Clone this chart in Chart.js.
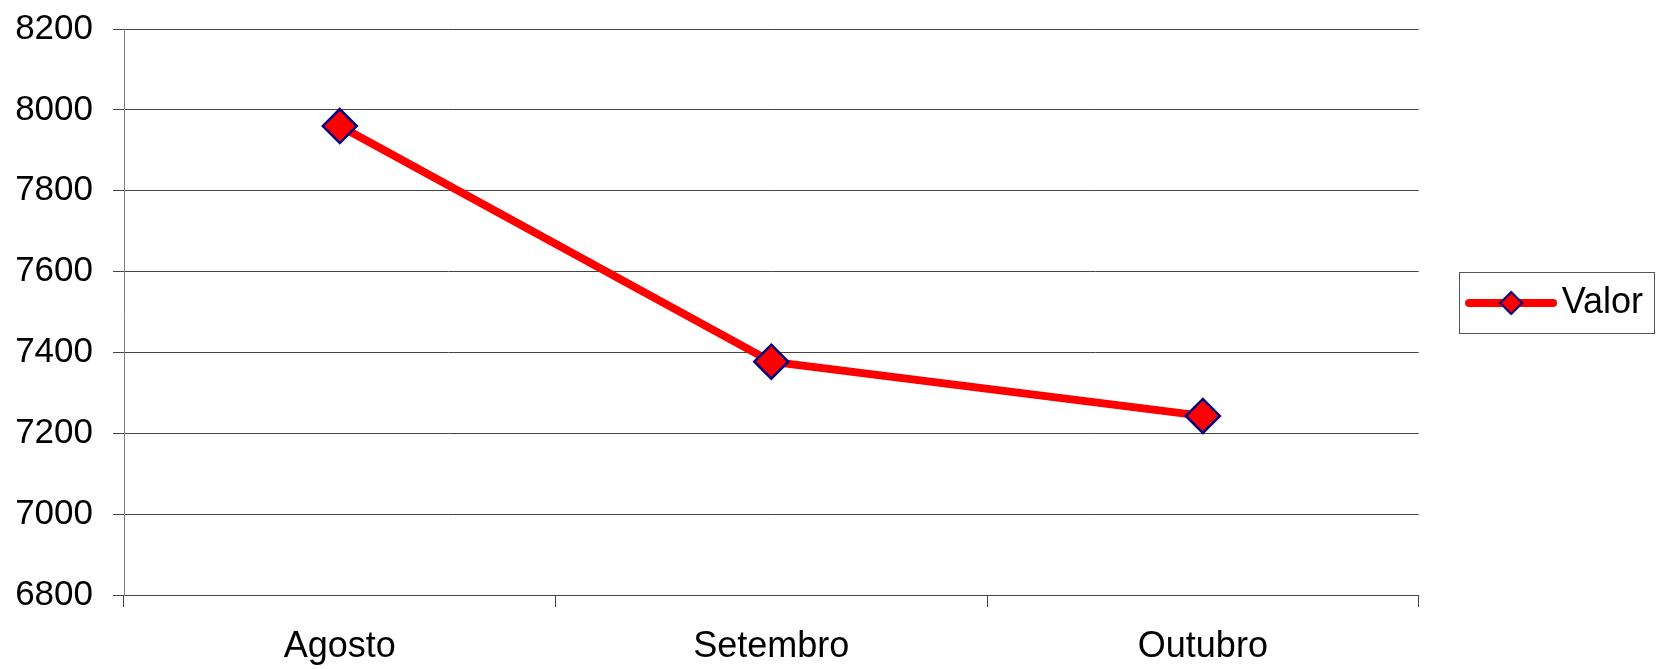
<!DOCTYPE html>
<html>
<head>
<meta charset="utf-8">
<title>Valor</title>
<script src="https://cdn.jsdelivr.net/npm/chart.js@4/dist/chart.umd.min.js"></script>
<style>
  html, body { margin: 0; padding: 0; background: #fff; }
  #wrap { width: 1661px; height: 669px; position: relative; }
</style>
</head>
<body>
<div id="wrap"><canvas id="graficoValor"></canvas></div>
<script>
// dados
var meses = ["Agosto", "Setembro", "Outubro"];
var valores = [7960, 7377, 7243];
var nomeSerie = "Valor";
var eixoMin = 6800;
var eixoMax = 8200;
var passo = 200;

var fonte = "'Liberation Sans', Arial, Helvetica, sans-serif";
var corLinha = "#ff0000";
var corBorda = "#000080";
var corGrade = "#444444";

// icone da legenda: linha com losango
var icone = document.createElement('canvas');
icone.width = 92;
icone.height = 30;
var ic = icone.getContext('2d');
ic.strokeStyle = corLinha;
ic.lineWidth = 8;
ic.lineCap = 'round';
ic.beginPath();
ic.moveTo(4, 15);
ic.lineTo(88, 15);
ic.stroke();
ic.beginPath();
ic.moveTo(46 - 11, 15);
ic.lineTo(46, 15 - 11);
ic.lineTo(46 + 11, 15);
ic.lineTo(46, 15 + 11);
ic.closePath();
ic.fillStyle = corLinha;
ic.fill();
ic.lineWidth = 2;
ic.strokeStyle = corBorda;
ic.stroke();

// moldura da legenda
var molduraLegenda = {
    id: 'molduraLegenda',
    afterLayout: function (chart) {
        chart.legend.top -= 9;
        chart.legend.bottom -= 9;
    },
    afterDraw: function (chart) {
        var hb = chart.legend.legendHitBoxes[0];
        if (!hb) return;
        var ctx = chart.ctx;
        ctx.save();
        ctx.strokeStyle = '#555555';
        ctx.lineWidth = 1;
        ctx.strokeRect(Math.round(hb.left - 20) + 0.5, Math.round(hb.top - 13.5) + 0.5,
            Math.round(hb.width + 31), Math.round(hb.height + 25));
        ctx.restore();
    }
};

var ctxL = document.getElementById("graficoValor").getContext('2d');
var grafico = new Chart(ctxL, {
    type: 'line',
    data: {
        labels: meses,
        datasets: [
            {
                label: nomeSerie,
                data: valores,
                borderColor: corLinha,
                backgroundColor: corLinha,
                borderWidth: 8,
                tension: 0,
                fill: false,
                pointStyle: 'rectRot',
                pointRadius: 17,
                pointHoverRadius: 17,
                pointBackgroundColor: corLinha,
                pointBorderColor: corBorda,
                pointBorderWidth: 2.5
            }
        ]
    },
    plugins: [molduraLegenda],
    options: {
        responsive: true,
        maintainAspectRatio: false,
        animation: false,
        layout: {
            padding: { left: 15, top: 0, right: 8, bottom: 2 }
        },
        plugins: {
            title: { display: false },
            tooltip: { enabled: false },
            legend: {
                display: true,
                position: 'right',
                fullSize: false,
                labels: {
                    usePointStyle: true,
                    pointStyle: icone,
                    pointStyleWidth: 65,
                    padding: 60,
                    color: '#000',
                    font: { family: fonte, size: 36 }
                }
            }
        },
        scales: {
            x: {
                offset: true,
                afterFit: function (escala) { escala.height = 72; },
                grid: {
                    display: true,
                    offset: true,
                    drawOnChartArea: false,
                    drawTicks: true,
                    tickLength: 12,
                    color: corGrade
                },
                border: { display: true, color: corGrade, width: 1 },
                ticks: {
                    color: '#000',
                    padding: 18,
                    font: { family: fonte, size: 36 }
                }
            },
            y: {
                min: eixoMin,
                max: eixoMax,
                afterFit: function (escala) {
                    escala.width = 109;
                    escala.paddingTop = 29;
                },
                grid: {
                    color: corGrade,
                    tickLength: 11,
                    drawTicks: true
                },
                border: { display: true, color: '#808080', width: 1 },
                ticks: {
                    stepSize: passo,
                    color: '#000',
                    padding: 20,
                    font: { family: fonte, size: 35 },
                    callback: function (valor) { return String(valor); }
                }
            }
        }
    }
});
</script>
</body>
</html>
